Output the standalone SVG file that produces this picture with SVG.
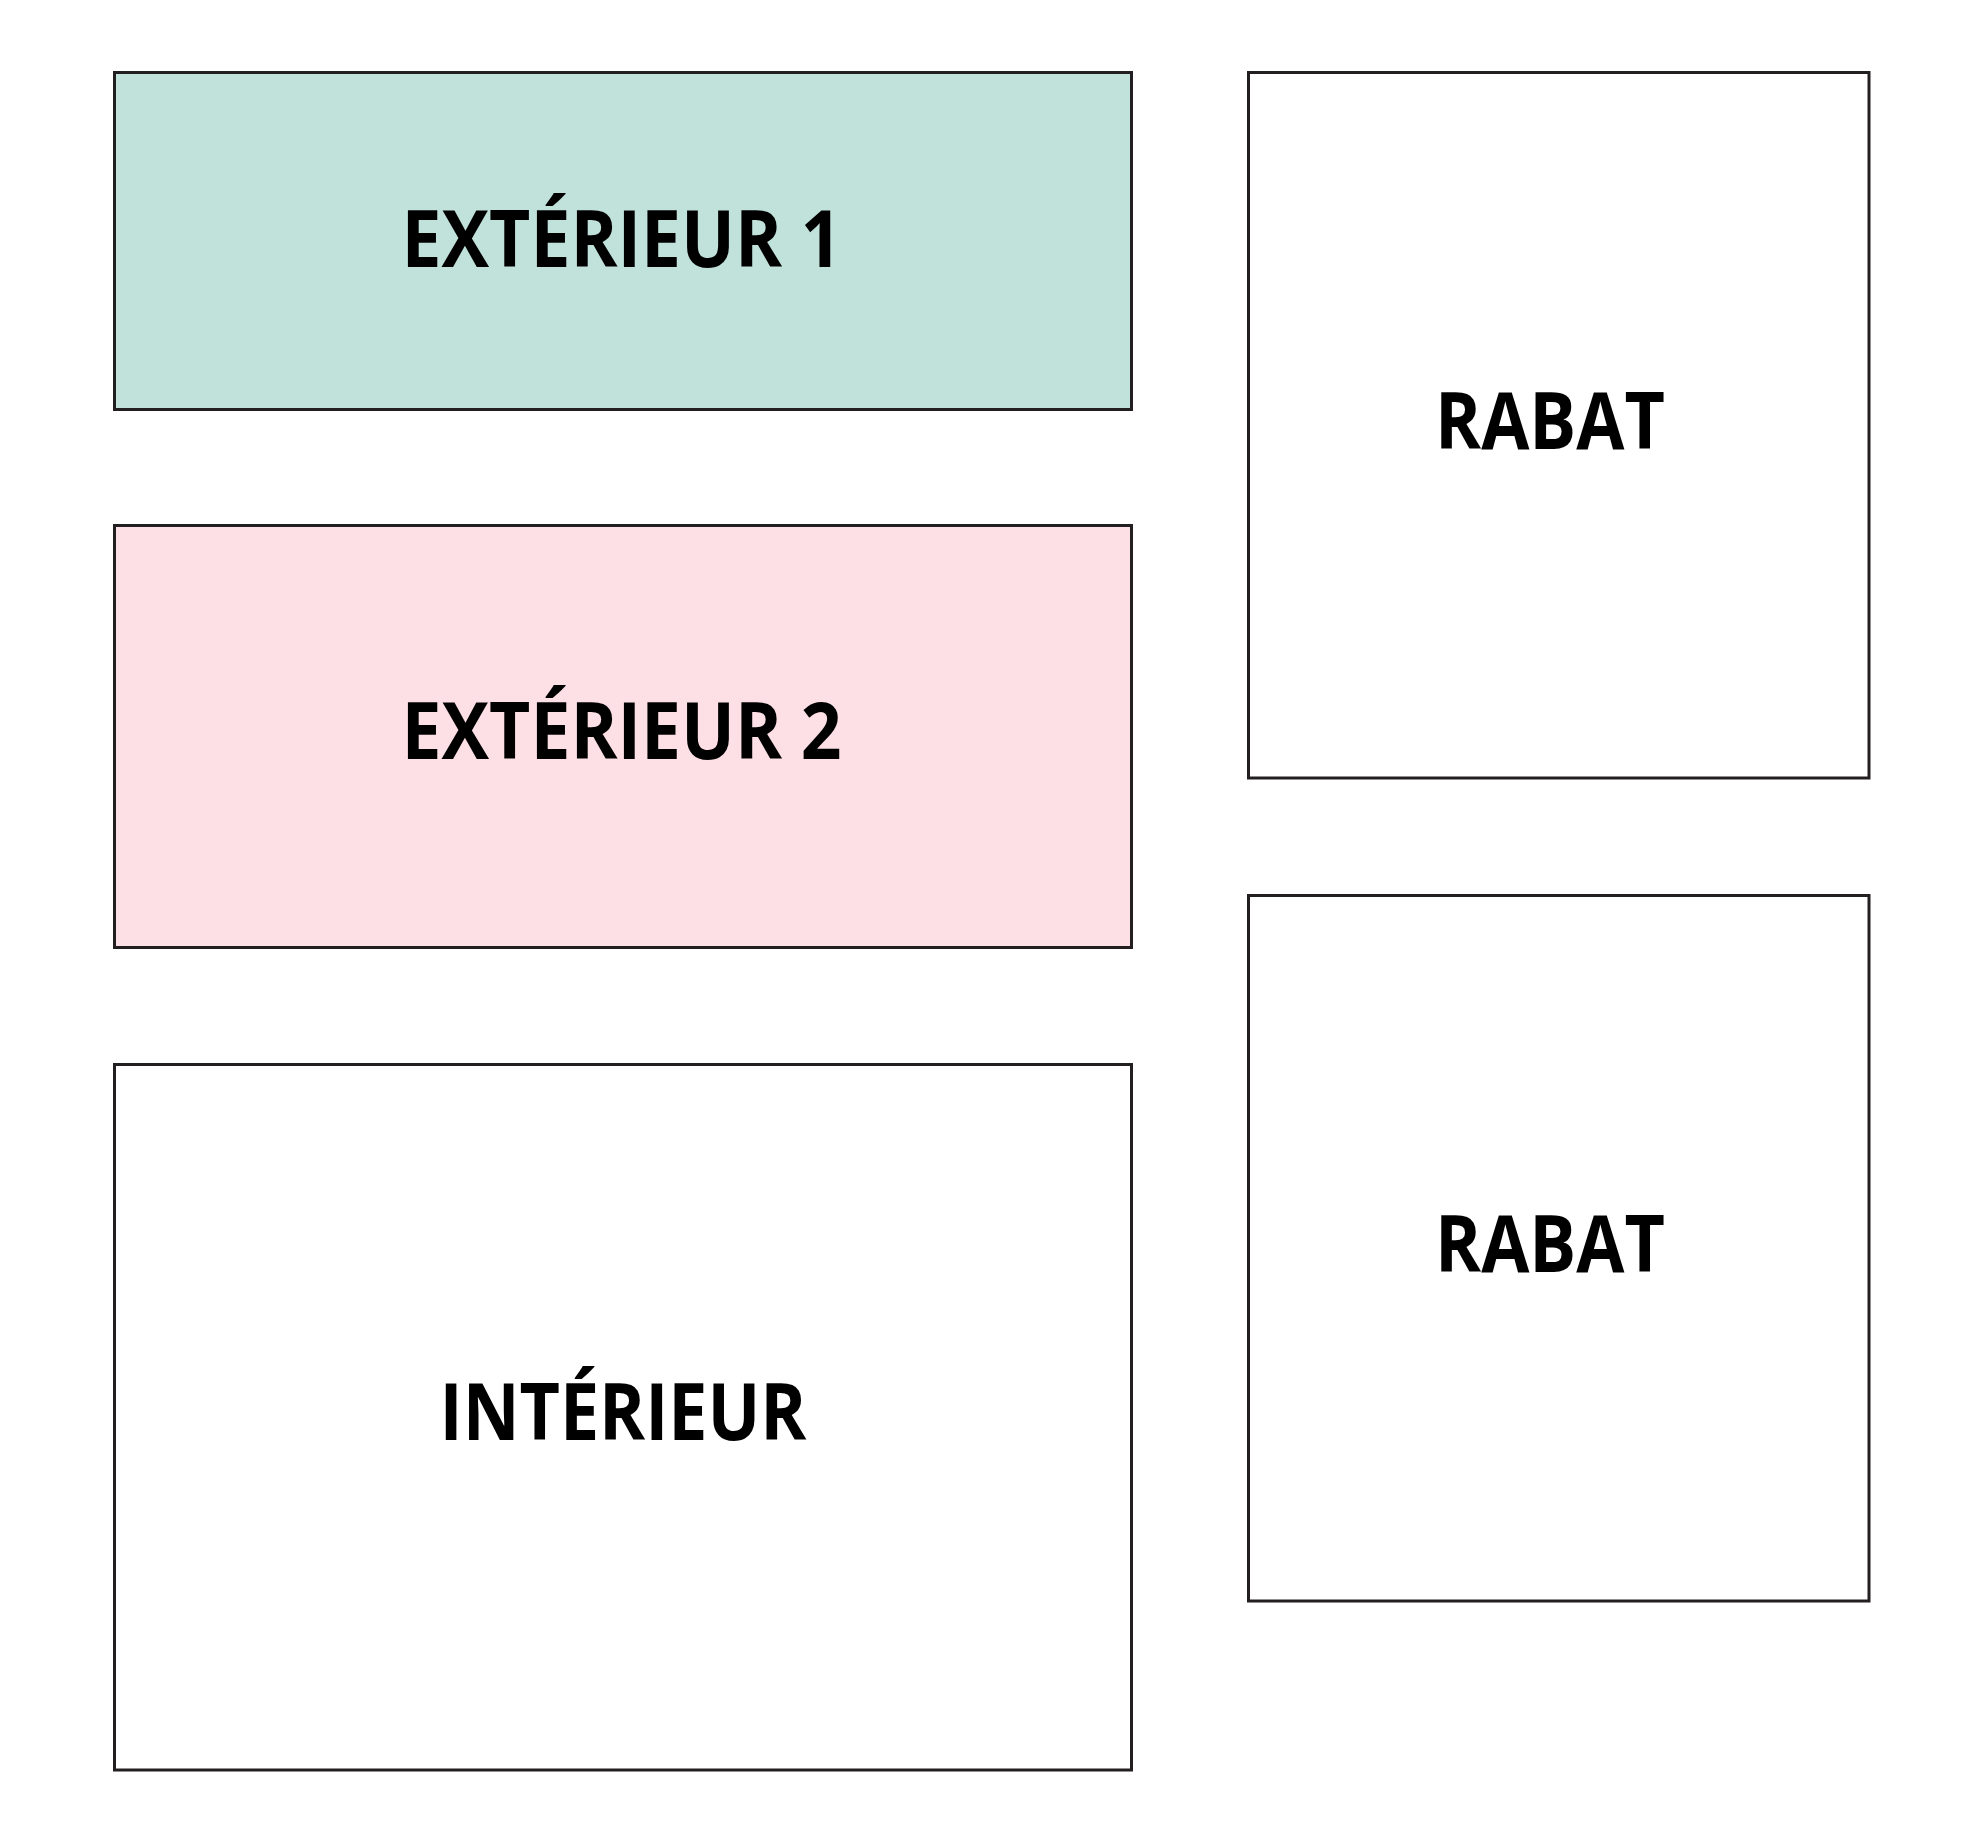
<svg xmlns="http://www.w3.org/2000/svg" width="1984" height="1843" viewBox="0 0 1984 1843">
<style>
.box{stroke:#231f20;stroke-width:3}
.lbl{font-family:"Open Sans","Liberation Sans",sans-serif;font-weight:700;font-size:78px;fill:#000;text-anchor:middle}
</style>
<rect width="1984" height="1843" fill="#ffffff"/>
<g id="exterieur1">
<rect class="box" x="114.5" y="72.5" width="1017" height="337" fill="#c1e2da"/>
<text class="lbl" x="621.5" y="267" textLength="440" lengthAdjust="spacingAndGlyphs">EXTÉRIEUR 1</text>
</g>
<g id="exterieur2">
<rect class="box" x="114.5" y="525.5" width="1017" height="422" fill="#fde0e5"/>
<text class="lbl" x="621.5" y="759" textLength="440" lengthAdjust="spacingAndGlyphs">EXTÉRIEUR 2</text>
</g>
<g id="interieur">
<rect class="box" x="114.5" y="1064.5" width="1017" height="705.5" fill="#ffffff"/>
<text class="lbl" x="623" y="1440" textLength="367" lengthAdjust="spacingAndGlyphs">INTÉRIEUR</text>
</g>
<g id="rabat1">
<rect class="box" x="1248.5" y="72.5" width="620.5" height="705.5" fill="#ffffff"/>
<text class="lbl" x="1550" y="449" textLength="230" lengthAdjust="spacingAndGlyphs">RABAT</text>
</g>
<g id="rabat2">
<rect class="box" x="1248.5" y="895.5" width="620.5" height="705.5" fill="#ffffff"/>
<text class="lbl" x="1550" y="1272" textLength="230" lengthAdjust="spacingAndGlyphs">RABAT</text>
</g>
<g id="connectors"></g>
</svg>
